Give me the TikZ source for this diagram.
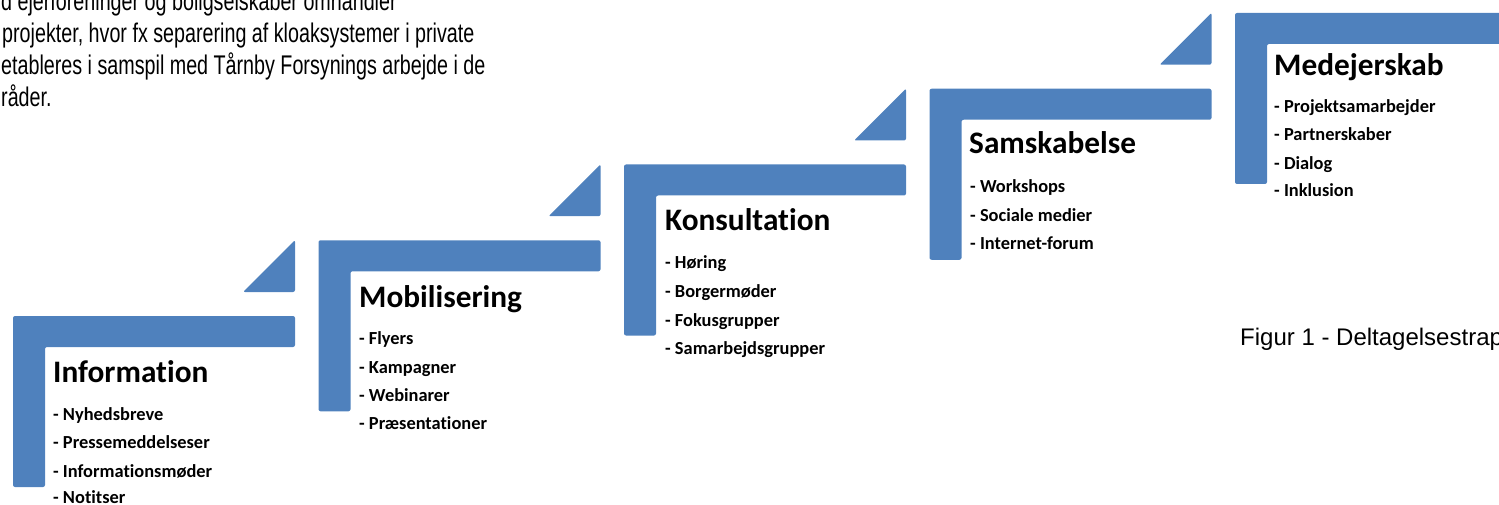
\documentclass[tikz,border=0pt]{standalone}
\usepackage{fontspec}
\setmainfont[Ligatures=NoCommon]{Carlito}
\newfontfamily\arialN[FakeStretch=0.73]{Liberation Sans}
\newfontfamily\arialF{Liberation Sans}
\definecolor{stepblue}{HTML}{4F81BD}
\tikzset{
  stepfill/.style={fill=stepblue, rounded corners=2pt},
  heading/.style={anchor=base west, inner sep=0pt, font=\fontsize{31.3}{31}\selectfont\bfseries},
  item/.style={anchor=base west, inner sep=0pt, font=\fontsize{18.4}{18}\selectfont\bfseries},
  para/.style={anchor=base west, inner sep=0pt, font=\arialN\fontsize{27}{27}\selectfont},
  figcap/.style={anchor=base west, inner sep=0pt, font=\arialF\fontsize{24}{24}\selectfont},
}
\begin{document}
\begin{tikzpicture}[x=1pt,y=-1pt]
\useasboundingbox (0,0) rectangle (1499,505);
% L-shaped steps
\foreach \i in {0,...,4}{
  \pgfmathsetmacro{\xo}{13+305.5*\i}
  \pgfmathsetmacro{\yt}{316-75.75*\i}
  \path[stepfill] (\xo,\yt) -- ++(282,0) -- ++(0,31) -- ++(-250,0) -- ++(0,140) -- ++(-32,0) -- cycle;
}
% triangles
\foreach \i in {0,...,3}{
  \pgfmathsetmacro{\xo}{13+305.5*\i}
  \pgfmathsetmacro{\yt}{316-75.75*\i}
  \path[stepfill] (\xo+230,\yt-24) -- (\xo+282,\yt-76) -- (\xo+282,\yt-24) -- cycle;
}
% paragraph text
\node[para] (p1) at (1,11) {d ejerforeninger og boligselskaber omhandler};
\node[para] (p2) at (2,43) {projekter, hvor fx separering af kloaksystemer i private};
\node[para] (p3) at (1,75) {etableres i samspil med Tårnby Forsynings arbejde i de};
\node[para] (p4) at (1,107) {råder.};
% Information
\node[heading] (h1) at (53,382) {Information};
\node[item] (h1a) at (53,420) {- Nyhedsbreve};
\node[item] (h1b) at (53,448) {- Pressemeddelseser};
\node[item] (h1c) at (53,477) {- Informationsmøder};
\node[item] (h1d) at (53,503) {- Notitser};
% Mobilisering
\node[heading] (h2) at (359,307) {Mobilisering};
\node[item] (h2a) at (359,344) {- Flyers};
\node[item] (h2b) at (359,373) {- Kampagner};
\node[item] (h2c) at (359,401) {- Webinarer};
\node[item] (h2d) at (359,429) {- Præsentationer};
% Konsultation
\node[heading] (h3) at (665,230) {Konsultation};
\node[item] (h3a) at (665,269) {- Høring};
\node[item] (h3b) at (665,297) {- Borgermøder};
\node[item] (h3c) at (665,326) {- Fokusgrupper};
\node[item] (h3d) at (665,354) {- Samarbejdsgrupper};
% Samskabelse
\node[heading] (h4) at (969,154) {Samskabelse};
\node[item] (h4a) at (970,193) {- Workshops};
\node[item] (h4b) at (970,222) {- Sociale medier};
\node[item] (h4c) at (970,249) {- Internet-forum};
% Medejerskab
\node[heading] (h5) at (1274,76) {Medejerskab};
\node[item] (h5a) at (1274,113) {- Projektsamarbejder};
\node[item] (h5b) at (1274,141) {- Partnerskaber};
\node[item] (h5c) at (1274,170) {- Dialog};
\node[item] (h5d) at (1274,197) {- Inklusion};
% caption
\node[figcap] (cap) at (1240,345) {Figur 1 - Deltagelsestrap};
\end{tikzpicture}
\end{document}
